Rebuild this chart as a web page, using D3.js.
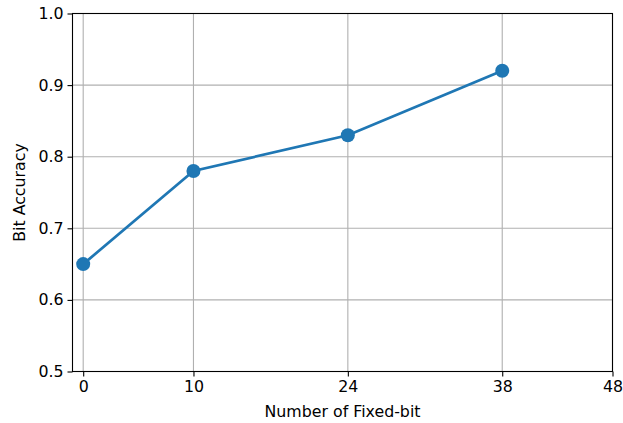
<!DOCTYPE html>
<html><head><meta charset="utf-8">
<script src="https://cdn.jsdelivr.net/npm/d3@7"></script>
<style>body{margin:0;background:#fff}svg{display:block}text{font-family:"DejaVu Sans",sans-serif}</style>
</head><body>
<script>
const xValues = [0, 10, 24, 38];
const accuracy = [0.65, 0.78, 0.83, 0.92];
const xTicks = [0, 10, 24, 38, 48];
const yTicks = [0.5, 0.6, 0.7, 0.8, 0.9, 1.0];

const W = 623, H = 423;
const L = 72.5, R = 612.5, T = 13.5, B = 371.5;
const FS = 15.8;
const svg = d3.select("body").append("svg").attr("width", W).attr("height", H);
const x = d3.scaleLinear().domain([-0.97, 48]).range([L, R]);
const y = d3.scaleLinear().domain([0.5, 1.0]).range([B, T]);

const g = svg.append("g");
// grid
g.selectAll(".gx").data(xTicks).join("line")
  .attr("x1", d => x(d)).attr("x2", d => x(d)).attr("y1", T).attr("y2", B)
  .attr("stroke", "#b0b0b0").attr("stroke-width", 1.1);
g.selectAll(".gy").data(yTicks).join("line")
  .attr("x1", L).attr("x2", R).attr("y1", d => y(d)).attr("y2", d => y(d))
  .attr("stroke", "#b0b0b0").attr("stroke-width", 1.1);

// line
const line = d3.line().x((d, i) => x(xValues[i])).y(d => y(d));
g.append("path").datum(accuracy).attr("d", line)
  .attr("fill", "none").attr("stroke", "#1f77b4").attr("stroke-width", 2.7);
g.selectAll(".pt").data(accuracy).join("circle")
  .attr("cx", (d, i) => x(xValues[i])).attr("cy", d => y(d)).attr("r", 7)
  .attr("fill", "#1f77b4");

// axes
const xAxis = d3.axisBottom(x).tickValues(xTicks).tickFormat(d3.format("d")).tickSizeOuter(0).tickSize(5).tickPadding(4);
const yAxis = d3.axisLeft(y).tickValues(yTicks).tickFormat(d3.format(".1f")).tickSizeOuter(0).tickSize(5).tickPadding(4);
const gx = svg.append("g").attr("transform", `translate(0,${B})`).call(xAxis);
const gy = svg.append("g").attr("transform", `translate(${L},0)`).call(yAxis);
[gx, gy].forEach(a => {
  a.select(".domain").remove();
  a.selectAll(".tick line").attr("stroke", "#000").attr("stroke-width", 1.1);
  a.selectAll(".tick text").attr("font-size", FS).attr("fill", "#000").attr("font-family", "DejaVu Sans");
});
// frame
svg.append("rect").attr("x", L).attr("y", T).attr("width", R - L).attr("height", B - T)
  .attr("fill", "none").attr("stroke", "#000").attr("stroke-width", 1.1);

svg.append("text").attr("x", (L + R) / 2).attr("y", 417).attr("text-anchor", "middle")
  .attr("font-size", FS).text("Number of Fixed-bit");
svg.append("text").attr("transform", `translate(25,${(T + B) / 2}) rotate(-90)`).attr("text-anchor", "middle")
  .attr("font-size", FS).text("Bit Accuracy");
</script>
</body></html>
